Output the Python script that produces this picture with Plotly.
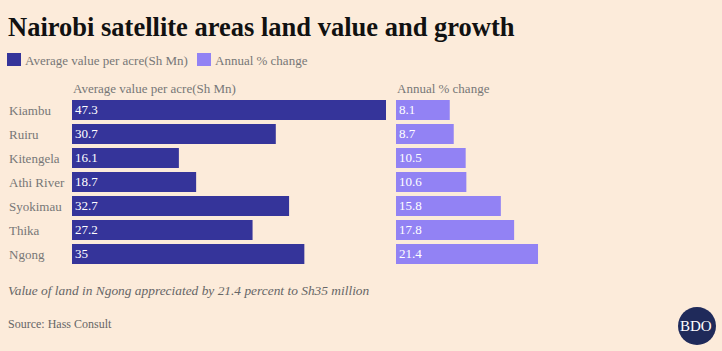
import plotly.graph_objects as go

categories = ["Kiambu", "Ruiru", "Kitengela", "Athi River", "Syokimau", "Thika", "Ngong"]
avg_value = [47.3, 30.7, 16.1, 18.7, 32.7, 27.2, 35]
annual_change = [8.1, 8.7, 10.5, 10.6, 15.8, 17.8, 21.4]
value_labels = ["47.3", "30.7", "16.1", "18.7", "32.7", "27.2", "35"]
change_labels = ["8.1", "8.7", "10.5", "10.6", "15.8", "17.8", "21.4"]

W, H = 722, 351
BG = "#FCEBDA"
DARK = "#35349A"
LIGHT = "#9282F4"
SERIF = "Liberation Serif, Georgia, serif"

def px(x):
    return x / W

def py(y):
    return 1 - y / H

fig = go.Figure()
fig.add_trace(go.Bar(
    y=categories, x=avg_value, orientation="h", xaxis="x", yaxis="y",
    marker=dict(color=DARK, line=dict(width=0)),
    text=value_labels, textposition="inside", insidetextanchor="start", textangle=0,
    textfont=dict(color="white", size=14, family=SERIF),
    name="Average value per acre(Sh Mn)", showlegend=False, hoverinfo="skip",
))
fig.add_trace(go.Bar(
    y=categories, x=annual_change, orientation="h", xaxis="x2", yaxis="y",
    marker=dict(color=LIGHT, line=dict(width=0)),
    text=change_labels, textposition="inside", insidetextanchor="start", textangle=0,
    textfont=dict(color="white", size=14, family=SERIF),
    name="Annual % change", showlegend=False, hoverinfo="skip",
))

annotations = []
for c in categories:
    annotations.append(dict(x=px(7), xref="paper", y=c, yref="y", text=c,
                            xanchor="left", yanchor="middle", showarrow=False,
                            font=dict(family=SERIF, size=13, color="#777777")))

annotations += [
    dict(x=px(6), y=py(27), xref="paper", yref="paper", xanchor="left", yanchor="middle",
         text="<b>Nairobi satellite areas land value and growth</b>", showarrow=False,
         font=dict(family=SERIF, size=26.5, color="#111111")),
    dict(x=px(23), y=py(60), xref="paper", yref="paper", xanchor="left", yanchor="middle",
         text="Average value per acre(Sh Mn)", showarrow=False,
         font=dict(family=SERIF, size=13, color="#777777")),
    dict(x=px(213), y=py(60), xref="paper", yref="paper", xanchor="left", yanchor="middle",
         text="Annual % change", showarrow=False,
         font=dict(family=SERIF, size=13, color="#777777")),
    dict(x=px(71), y=py(88), xref="paper", yref="paper", xanchor="left", yanchor="middle",
         text="Average value per acre(Sh Mn)", showarrow=False,
         font=dict(family=SERIF, size=13, color="#777777")),
    dict(x=px(395), y=py(88), xref="paper", yref="paper", xanchor="left", yanchor="middle",
         text="Annual % change", showarrow=False,
         font=dict(family=SERIF, size=13, color="#777777")),
    dict(x=px(6), y=py(290), xref="paper", yref="paper", xanchor="left", yanchor="middle",
         text="<i>Value of land in Ngong appreciated by 21.4 percent to Sh35 million</i>", showarrow=False,
         font=dict(family=SERIF, size=13.4, color="#666666")),
    dict(x=px(6), y=py(324), xref="paper", yref="paper", xanchor="left", yanchor="middle",
         text="Source: Hass Consult", showarrow=False,
         font=dict(family=SERIF, size=12, color="#666666")),
    dict(x=px(696), y=py(326), xref="paper", yref="paper", xanchor="center", yanchor="middle",
         text="BDO", showarrow=False,
         font=dict(family=SERIF, size=15, color="white")),
]

shapes = [
    dict(type="rect", xref="paper", yref="paper", x0=px(7), x1=px(21), y0=py(66), y1=py(53),
         fillcolor=DARK, line=dict(width=0)),
    dict(type="rect", xref="paper", yref="paper", x0=px(197), x1=px(211), y0=py(66), y1=py(53),
         fillcolor=LIGHT, line=dict(width=0)),
    dict(type="circle", xref="paper", yref="paper", x0=px(678), x1=px(716), y0=py(345), y1=py(307),
         fillcolor="#1F2A5A", line=dict(width=0)),
]

fig.update_layout(
    width=W, height=H, margin=dict(l=0, r=0, t=0, b=0),
    paper_bgcolor=BG, plot_bgcolor=BG,
    bargap=4 / 24,
    xaxis=dict(domain=[px(72), px(386)], range=[0, 47.3], visible=False, fixedrange=True),
    xaxis2=dict(domain=[px(396), px(542)], range=[0, 22], visible=False, fixedrange=True),
    yaxis=dict(domain=[py(266), py(98)], autorange="reversed", visible=False,
               categoryorder="array", categoryarray=categories),
    annotations=annotations, shapes=shapes,
    uniformtext=dict(mode=False),
)

fig.write_html("out.html")
